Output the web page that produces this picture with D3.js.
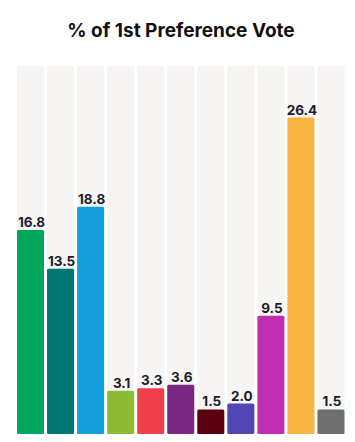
<!DOCTYPE html>
<html><head><meta charset="utf-8">
<script src="https://cdn.jsdelivr.net/npm/d3@7"></script>
<style>body{margin:0;background:#fff;}svg{display:block;}</style>
</head><body>
<svg id="c" width="355" height="442"></svg>
<script>
const categories = ["A","B","C","D","E","F","G","H","I","J","K"];
const values = [16.8,13.5,18.8,3.1,3.3,3.6,1.5,2.0,9.5,26.4,1.5];
const colors = ["#00a75a","#007571","#169fdd","#8dbb33","#ef3e4c","#792982","#5a0010","#5047b4","#c02fb1","#f9b540","#6f6f6f"];
const title = "% of 1st Preference Vote";

const svg = d3.select("#c");
const x = d3.scaleBand().domain(categories).range([17, 344.5]).paddingInner(0.1).paddingOuter(0).align(0);
const y = d3.scaleLinear().domain([-0.6, 30.8]).range([434, 66]);

svg.append("text").attr("x", 181).attr("y", 37).attr("text-anchor", "middle")
  .attr("font-family", "Inter, 'Open Sans', sans-serif").attr("font-weight", 700)
  .attr("font-size", 19).attr("fill", "#111").text(title);

svg.selectAll("rect.bg").data(categories).join("rect").attr("class","bg")
  .attr("x", d => x(d)).attr("width", x.bandwidth())
  .attr("y", y.range()[1]).attr("height", y.range()[0]-y.range()[1])
  .attr("fill", "#f6f5f3");

svg.selectAll("rect.bar").data(values).join("rect").attr("class","bar")
  .attr("x", (d,i) => x(categories[i])).attr("width", x.bandwidth())
  .attr("y", d => y(d)).attr("height", d => y.range()[0]-y(d))
  .attr("rx", 1.5).attr("fill", (d,i) => colors[i]);

svg.selectAll("text.lab").data(values).join("text").attr("class","lab")
  .attr("x", (d,i) => x(categories[i]) + x.bandwidth()/2 + 1)
  .attr("y", d => y(d) - 3).attr("text-anchor", "middle")
  .attr("font-family", "Inter, 'Open Sans', sans-serif").attr("font-weight", 700)
  .attr("font-size", 13.5).attr("fill", "#1b1b2b").text(d => d.toFixed(1));
</script>
</body></html>
